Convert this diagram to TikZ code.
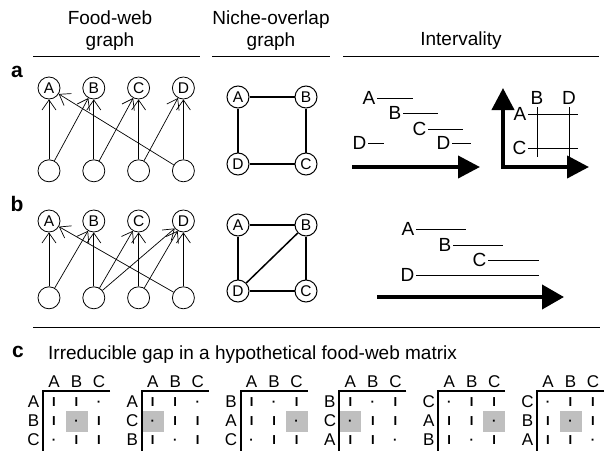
\documentclass[tikz,border=0pt]{standalone}
\usepackage{fontspec}
\setmainfont{Liberation Sans}
\usetikzlibrary{positioning, arrows.meta, bayesnet}

\tikzset{
  sp/.style={circle, draw, fill=white, line width=0.8pt, inner sep=0pt, minimum size=22pt, font=\fontsize{15.5}{15.5}\selectfont},
  feeds/.style={-{Straight Barb[length=10pt, width=14pt]}, line width=0.7pt},
  overlap/.style={line width=1.5pt},
  lbl/.style={font=\fontsize{21}{21}\selectfont\bfseries, inner sep=0pt},
  iv/.style={inner sep=1.5pt},
  span/.style={line width=1pt},
  timeline/.style={line width=4pt, -{Triangle[length=22pt, width=22pt]}},
  mlab/.style={font=\fontsize{17}{17}\selectfont, inner sep=0pt},
  cell/.style={font=\fontsize{13}{13}\selectfont\bfseries, text height=9pt, text depth=0pt, inner sep=0pt},
  frame/.style={line width=2pt},
}

\begin{document}
\begin{tikzpicture}[x=1pt, y=-1pt, font=\fontsize{19}{22}\selectfont]
\useasboundingbox (0,0) rectangle (605,450);

% column headings
\node[align=center] (hfood) at (110,31) {Food-web\\graph};
\node[align=center] (hniche) at (271,31) {Niche-overlap\\graph};
\node (hint) at (461,41) {Intervality};
\draw[line width=0.8pt] (33,56) -- (200,56);
\draw[line width=0.8pt] (212,56) -- (330,56);
\draw[line width=0.8pt] (343,56) -- (599,56);

% panel a
\node[lbl] (pa) at (17,72) {a};
\node[sp] (aA) at (49,88) {A};
\node[sp, right=22pt of aA] (aB) {B};
\node[sp, right=22pt of aB] (aC) {C};
\node[sp, right=22pt of aC] (aD) {D};
\node[sp, below=60pt of aA] (a1) {};
\node[sp, below=60pt of aB] (a2) {};
\node[sp, below=60pt of aC] (a3) {};
\node[sp, below=60pt of aD] (a4) {};
\edge[feeds]{a1}{aA,aB}
\edge[feeds]{a2}{aB,aC}
\edge[feeds]{a3}{aC,aD}
\edge[feeds]{a4}{aD,aA}

\node[sp, line width=1pt] (naA) at (238,97) {A};
\node[sp, line width=1pt, right=45pt of naA] (naB) {B};
\node[sp, line width=1pt, below=44pt of naA] (naD) {D};
\node[sp, line width=1pt, below=44pt of naB] (naC) {C};
\draw[overlap] (naA) -- (naB) -- (naC) -- (naD) -- (naA);

\node[iv, anchor=east] (iaA) at (377,98) {A};
\node[iv, anchor=east] (iaB) at (403,113) {B};
\node[iv, anchor=east] (iaC) at (428,129) {C};
\node[iv, anchor=east] (iaD) at (368,143) {D};
\node[iv, anchor=east] (iaE) at (452,143) {D};
\draw[span] (iaA.east) -- ++(36,0);
\draw[span] (iaB.east) -- ++(35,0);
\draw[span] (iaC.east) -- ++(35,0);
\draw[span] (iaD.east) -- ++(16,0);
\draw[span] (iaE.east) -- ++(19,0);
\coordinate (ta0) at (352,167);
\coordinate (ta1) at (480,167);
\draw[timeline] (ta0) -- (ta1);

\coordinate (oy) at (503,88);
\coordinate (ox) at (503,167);
\coordinate (oxr) at (589,167);
\draw[line width=4pt, {Triangle[length=22pt, width=22pt]}-{Triangle[length=22pt, width=22pt]}] (oy) -- (ox) -- (oxr);
\node[iv, anchor=south, inner sep=2pt] (gB) at (537,107) {B};
\node[iv, anchor=south, inner sep=2pt] (gD) at (569,107) {D};
\node[iv, anchor=east, inner sep=1.5pt] (gA) at (528,114) {A};
\node[iv, anchor=east, inner sep=1.5pt] (gC) at (528,148) {C};
\draw[span] (gB.south) -- ++(0,50);
\draw[span] (gD.south) -- ++(0,50);
\draw[span] (gA.east) -- ++(50,0);
\draw[span] (gC.east) -- ++(50,0);

% panel b
\node[lbl] (pb) at (17,204) {b};
\node[sp] (bA) at (49,221) {A};
\node[sp, right=22pt of bA] (bB) {B};
\node[sp, right=22pt of bB] (bC) {C};
\node[sp, right=22pt of bC] (bD) {D};
\node[sp, below=54pt of bA] (b1) {};
\node[sp, below=54pt of bB] (b2) {};
\node[sp, below=54pt of bC] (b3) {};
\node[sp, below=54pt of bD] (b4) {};
\edge[feeds]{b1}{bA,bB}
\edge[feeds]{b2}{bB,bC,bD}
\edge[feeds]{b3}{bC,bD}
\edge[feeds]{b4}{bD,bA}

\node[sp, line width=1pt] (nbA) at (238,225) {A};
\node[sp, line width=1pt, right=45pt of nbA] (nbB) {B};
\node[sp, line width=1pt, below=43pt of nbA] (nbD) {D};
\node[sp, line width=1pt, below=43pt of nbB] (nbC) {C};
\draw[overlap] (nbA) -- (nbB) -- (nbC) -- (nbD) -- (nbA);
\draw[overlap] (nbD) -- (nbB);

\node[iv, anchor=east] (ibA) at (416,229) {A};
\node[iv, anchor=east] (ibB) at (453,245) {B};
\node[iv, anchor=east] (ibC) at (488,260) {C};
\node[iv, anchor=east] (ibD) at (416,275) {D};
\draw[span] (ibA.east) -- ++(50,0);
\draw[span] (ibB.east) -- ++(50,0);
\draw[span] (ibC.east) -- ++(51,0);
\draw[span] (ibD.east) -- ++(123,0);
\coordinate (tb0) at (377,297);
\coordinate (tb1) at (564,297);
\draw[timeline, -{Triangle[length=22pt, width=24pt]}] (tb0) -- (tb1);

\draw[line width=0.8pt] (33,327) -- (600,327);

% panel c
\node[lbl] (pc) at (18,352) {c};
\node[anchor=base west, inner sep=0pt] (ctitle) at (48,359) {Irreducible gap in a hypothetical food-web matrix};

\foreach \ra/\da/\rb/\db/\rc/\dc [count=\m from 0] in {A/3/B/2/C/1, A/3/C/1/B/2, B/2/A/3/C/1, B/2/C/1/A/3, C/1/A/3/B/2, C/1/B/2/A/3}{
  \pgfmathsetmacro{\xo}{43+98.8*\m}
  \fill[black!25] (\xo+22.5*\db-22.5, 411) rectangle ++(22,21);
  \foreach \c [count=\j from 0] in {A,B,C}
    \node[mlab] (m\m c\j) at (\xo+11+22.5*\j, 382) {\c};
  \foreach \lab/\dcol [count=\i from 0] in {\ra/\da,\rb/\db,\rc/\dc}{
    \node[mlab] (m\m r\i) at (\xo-9.5, 402+19*\i) {\lab};
    \foreach \j in {1,2,3}
      \node[cell] (m\m r\i-\j) at (\xo+22.5*\j-11.5, 402+19*\i) {\ifnum\j=\dcol\relax\textperiodcentered\else I\fi};
  }
  \draw[frame] (\xo+67,391) -- (\xo,391) -- (\xo,456);
}
\end{tikzpicture}
\end{document}
